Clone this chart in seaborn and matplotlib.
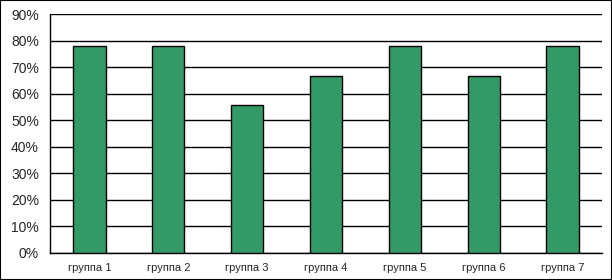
import matplotlib
matplotlib.use("Agg")
import matplotlib.pyplot as plt
import seaborn as sns
import pandas as pd
from matplotlib.ticker import PercentFormatter, FixedLocator
from matplotlib.patches import Rectangle

categories = ["группа 1", "группа 2", "группа 3", "группа 4", "группа 5", "группа 6", "группа 7"]
values = [7/9, 7/9, 5/9, 6/9, 7/9, 6/9, 7/9]

df = pd.DataFrame({"cat": categories, "val": values})

sns.set_style("white")
plt.rcParams["font.family"] = ["Liberation Sans", "DejaVu Sans"]

fig = plt.figure(figsize=(6.12, 2.8), dpi=100)
ax = fig.add_axes([50/612, 27/280, 552/612, 239/280])

sns.barplot(data=df, x="cat", y="val", color="#339966", width=0.41,
            edgecolor="black", linewidth=1.0, saturation=1, ax=ax, zorder=3)

ax.set_ylim(0, 0.9)
ax.set_xlim(-0.5, len(categories) - 0.5)
ax.set_yticks([i/10 for i in range(10)])
ax.yaxis.set_major_formatter(PercentFormatter(1.0, decimals=0))
ax.yaxis.grid(True, color="black", linewidth=1.0, zorder=0)
ax.set_axisbelow(True)
ax.set_xlabel("")
ax.set_ylabel("")

# x ticks at category boundaries, labels centered
ax.set_xticks(range(len(categories)))
ax.set_xticklabels(categories, fontsize=8)
ax.tick_params(axis="x", which="major", length=0, pad=7)
ax.xaxis.set_minor_locator(FixedLocator([i - 0.5 for i in range(len(categories) + 1)]))
ax.tick_params(axis="x", which="minor", length=5, width=1, color="black", direction="out")
ax.tick_params(axis="y", length=5, width=1, color="black", direction="out", labelsize=10, pad=3)

for s in ["top", "right"]:
    ax.spines[s].set_visible(False)
for s in ["left", "bottom"]:
    ax.spines[s].set_color("black")
    ax.spines[s].set_linewidth(1.0)

fig.patches.append(Rectangle((0, 0), 1, 1, transform=fig.transFigure, fill=False,
                             edgecolor="black", linewidth=1.5))

fig.savefig("out.png", dpi=100)
